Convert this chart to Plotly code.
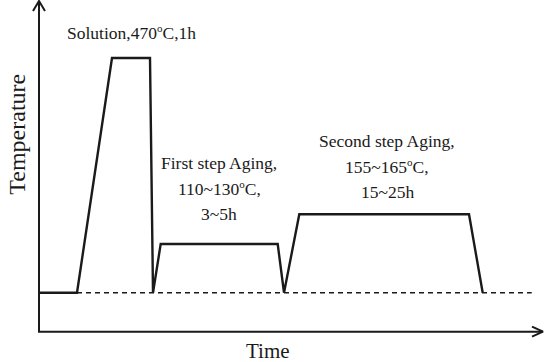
import plotly.graph_objects as go

# Heat-treatment profile (time, temperature) in arbitrary units
time = [0, 38, 73, 111, 114, 121.7, 238.7, 245, 260.3, 430, 443.7]
temperature = [39, 39, 273.7, 273.7, 39, 87.7, 87.7, 39, 117.4, 117.4, 39]

# room temperature reference (dashed)
room_time = [38, 492.7]
room_temp = [39, 39]

# axis extents
x_axis_end = 504
y_axis_end = 330.7

DEG = "<sup><span style='font-size:11px'>o</span></sup>"

labels = [
    ("Solution,470" + DEG + "C,1h", 92.7, 299.5),
    ("First step Aging,", 180, 169),
    ("110~130" + DEG + "C,", 180, 143.5),
    ("3~5h", 180, 117.5),
    ("Second step Aging,", 348, 190.5),
    ("155~165" + DEG + "C,", 348, 165),
    ("15~25h", 348, 139.5),
]

font_family = "Liberation Serif, Times New Roman, serif"
ink = "#1a1a1a"

fig = go.Figure()

# axes drawn as lines
fig.add_trace(go.Scatter(x=[0, 0, x_axis_end], y=[y_axis_end, 0, 0], mode="lines",
                         line=dict(color=ink, width=2), hoverinfo="skip"))
# arrowheads
fig.add_trace(go.Scatter(x=[-6, 0, 6], y=[y_axis_end - 10, y_axis_end, y_axis_end - 10], mode="lines",
                         line=dict(color=ink, width=2), hoverinfo="skip"))
fig.add_trace(go.Scatter(x=[x_axis_end - 11, x_axis_end, x_axis_end - 11], y=[5, 0, -5], mode="lines",
                         line=dict(color=ink, width=2), hoverinfo="skip"))

fig.add_trace(go.Scatter(x=room_time, y=room_temp, mode="lines",
                         line=dict(color=ink, width=1.6, dash="5px,4px"), hoverinfo="skip"))
fig.add_trace(go.Scatter(x=time, y=temperature, mode="lines",
                         line=dict(color=ink, width=2.4), hoverinfo="skip"))

for txt, x, y in labels:
    fig.add_annotation(x=x, y=y, text=txt, showarrow=False, xref="x", yref="y",
                       font=dict(family=font_family, size=17.5, color=ink))

fig.add_annotation(x=-21.5, y=197.5, text="Temperature", textangle=-90, showarrow=False,
                   xref="x", yref="y", font=dict(family=font_family, size=24, color=ink))
fig.add_annotation(x=229, y=-19, text="Time", showarrow=False,
                   xref="x", yref="y", font=dict(family=font_family, size=21, color=ink))

fig.update_layout(
    width=550, height=362,
    margin=dict(l=0, r=0, t=0, b=0),
    paper_bgcolor="white", plot_bgcolor="white",
    showlegend=False,
    xaxis=dict(range=[-39, 511], visible=False, fixedrange=True),
    yaxis=dict(range=[-30.3, 331.7], visible=False, fixedrange=True),
)

fig.write_html("out.html", config={"displayModeBar": False})

# remove the default page margin so the figure sits at the window's corner
with open("out.html", encoding="utf-8") as f:
    html = f.read()
html = html.replace("<body>", "<body style=\"margin:0;padding:0;overflow:hidden\">", 1)
with open("out.html", "w", encoding="utf-8") as f:
    f.write(html)
